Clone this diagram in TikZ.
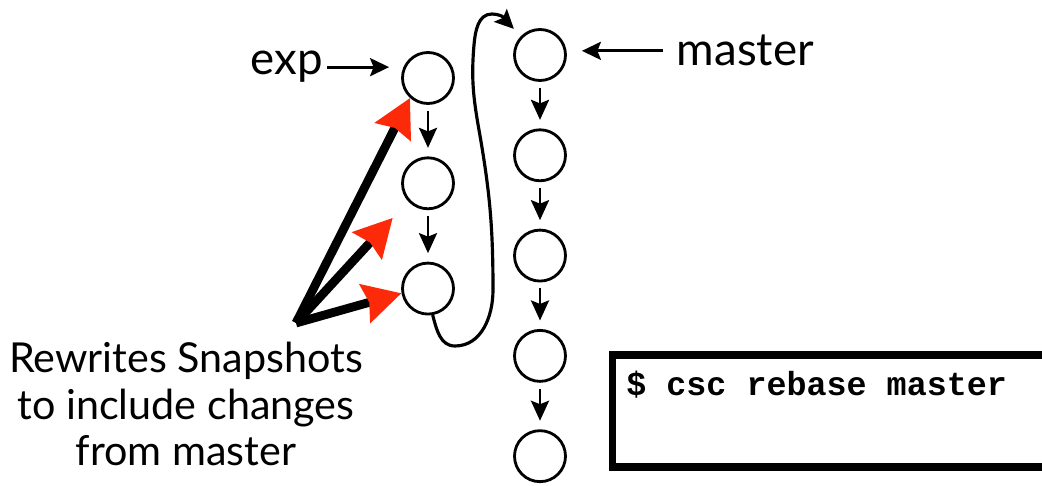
\documentclass[tikz,border=0pt]{standalone}
\usepackage{fontspec}
\setmainfont{Lato}
\setmonofont{Liberation Mono}
\usetikzlibrary{arrows.meta, positioning}
\definecolor{headred}{RGB}{252,42,8}
\tikzset{
  commit/.style = {circle, draw=black, line width=1.6pt, minimum size=1.02cm, inner sep=0pt},
  tag/.style = {font=\fontsize{26}{26.4}\selectfont, inner sep=2pt},
  note/.style = {font=\fontsize{23.5}{26.4}\selectfont, inner sep=2pt, align=center},
  link/.style = {-{Stealth[length=0.4cm, width=0.36cm, inset=0.07cm]}, line width=1.7pt, shorten <=0.12cm, shorten >=0.17cm},
  pointer/.style = {-{Stealth[length=0.38cm, width=0.36cm, inset=0.07cm]}, line width=1.8pt},
  rewrite/.style = {-{Stealth[length=0.75cm, width=0.78cm, inset=0.08cm, color=headred]}, line width=5pt},
  curvy/.style = {-{Stealth[length=0.38cm, width=0.36cm, inset=0.07cm]}, line width=1.8pt},
  cmdbox/.style = {rectangle, draw=black, line width=4pt, minimum width=9.3cm, minimum height=2.24cm, anchor=north west},
  cmdtext/.style = {font=\ttfamily\bfseries\fontsize{19}{22}\selectfont, anchor=base west, inner sep=0pt}
}

\begin{document}
\begin{tikzpicture}[x=0.02cm, y=-0.02cm]
\useasboundingbox (0,0) rectangle (1042,486);
\clip (0,0) rectangle (1042,486);

% exp branch
\node[commit] (e1) at (428,78) {};
\node[commit, below=1.03cm of e1] (e2) {};
\node[commit, below=1.03cm of e2] (e3) {};

% master branch
\node[commit] (m1) at (540,55) {};
\node[commit, below=0.93cm of m1] (m2) {};
\node[commit, below=0.93cm of m2] (m3) {};
\node[commit, below=0.93cm of m3] (m4) {};
\node[commit, below=0.93cm of m4] (m5) {};

% Labels
\node[tag, anchor=base east] (exp) at (327,75) {exp};
\node[tag, anchor=base west] (master) at (673,66) {master};
\node[note] (caption) at (186,404) {Rewrites Snapshots\\to include changes\\from master};
\coordinate (fan) at (296,323);

% Command box
\node[cmdbox] (cmd) at (608.5,351.5) {};
\node[cmdtext] (cmdtxt) at (626,396) {\$ csc rebase master};

% Arrows
\draw[link] (e1) -- (e2);
\draw[link] (e2) -- (e3);
\draw[link] (m1) -- (m2);
\draw[link] (m2) -- (m3);
\draw[link] (m3) -- (m4);
\draw[link] (m4) -- (m5);

\draw[pointer, shorten >=0.24cm] (exp.east) -- (exp.east -| e1.west);
\draw[pointer, shorten <=0.2cm, shorten >=0.3cm] (master.west) -- (master.west -| m1.east);

\draw[rewrite] (fan) -- (e1.228);
\draw[rewrite, shorten >=0.45cm] (fan) -- (e2.222);
\draw[rewrite] (fan) -- (e3.190);

\draw[curvy, shorten >=0.2cm] (e3.-80) to[out=-75, in=180] (455,346)
  to[out=0, in=-90] (493,290) to[out=90, in=-80] (479,130)
  to[out=100, in=-95] (474,45) to[out=85, in=180] (492,14)
  to[out=0, in=135] (m1.135);

\end{tikzpicture}
\end{document}
